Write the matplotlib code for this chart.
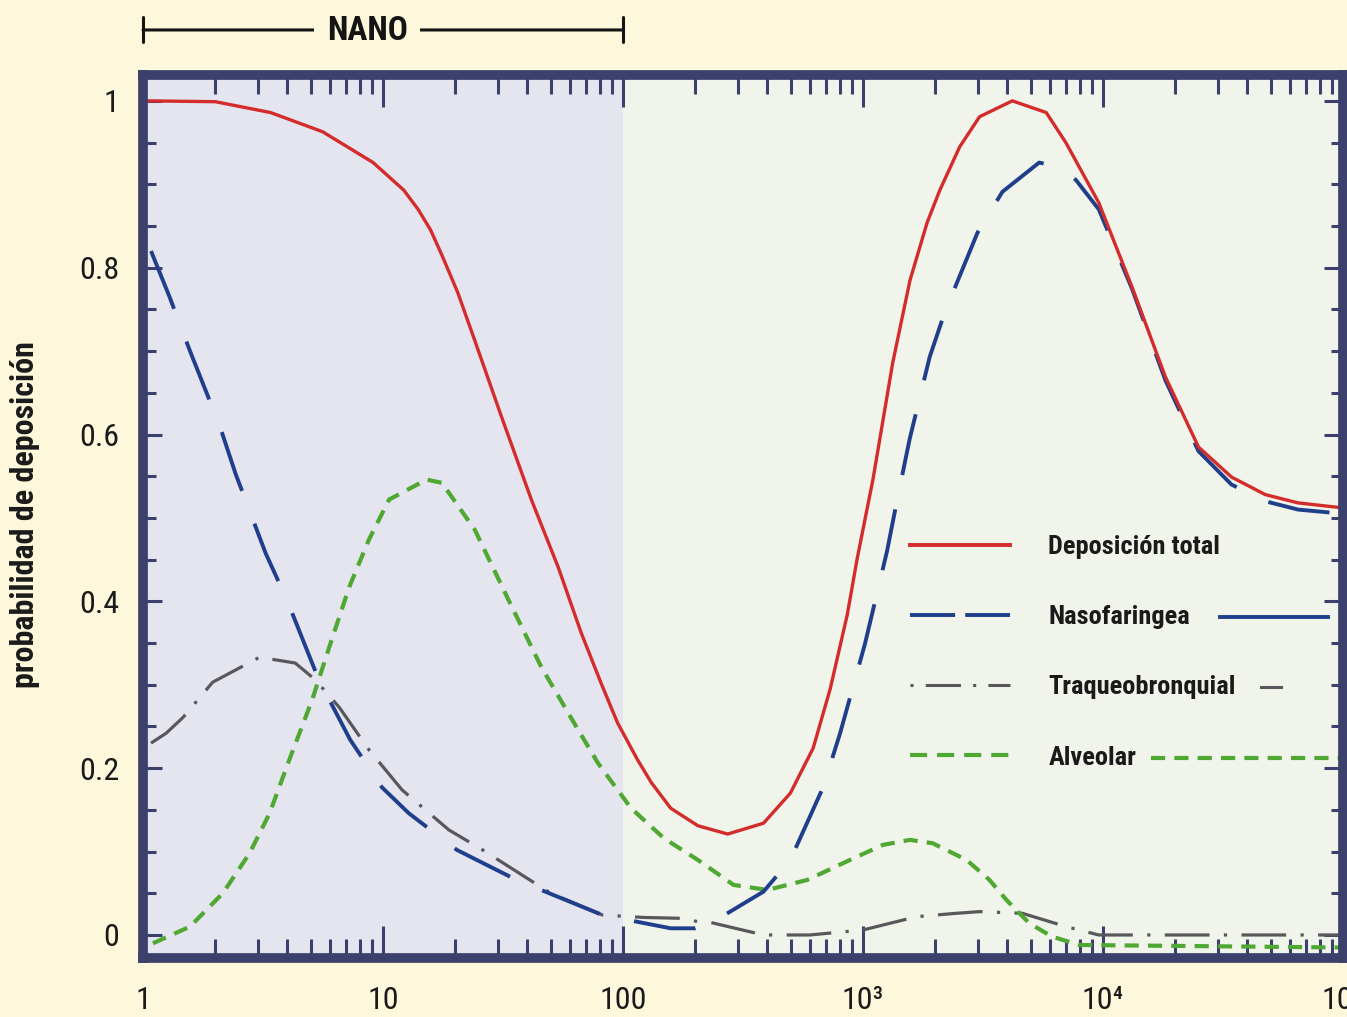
import matplotlib
matplotlib.use("Agg")
import matplotlib.pyplot as plt
from matplotlib import font_manager
from matplotlib.lines import Line2D
from matplotlib.ticker import LogLocator, MultipleLocator, FuncFormatter, NullFormatter
import matplotlib.transforms as mtransforms

# ---------------- data (particle size in nm, deposition probability) ----------------
total_x = [1.05, 2.0, 3.4, 5.6, 9.1, 12.2, 14.0, 15.8, 17.6, 20.5, 24.1, 31.2, 41.5, 53.7,
           67, 81, 95, 115, 131, 158, 205, 273, 385, 498, 620, 730, 860, 944, 1100, 1330,
           1570, 1850, 2090, 2530, 3060, 4190, 5800, 7000, 9600, 13200, 18200, 25000,
           34300, 47400, 65000, 100000]
total_y = [1.0, 0.999, 0.986, 0.963, 0.926, 0.893, 0.87, 0.845, 0.815, 0.77, 0.713, 0.621,
           0.522, 0.441, 0.362, 0.302, 0.254, 0.21, 0.183, 0.152, 0.131, 0.121, 0.134, 0.17,
           0.224, 0.295, 0.384, 0.45, 0.546, 0.686, 0.785, 0.854, 0.893, 0.945, 0.981, 1.0,
           0.986, 0.95, 0.878, 0.777, 0.669, 0.585, 0.549, 0.528, 0.518, 0.512]

naso_x = [1.08, 1.29, 1.57, 2.09, 2.43, 3.24, 4.0, 5.4, 7.3, 9.9, 12.8, 20.3, 36, 82, 158,
          200, 232, 385, 498, 682, 803, 1019, 1259, 1384, 1566, 1896, 2188, 3000, 3810,
          5420, 6560, 7720, 9600, 13200, 18200, 25000, 34300, 47400, 65000, 100000]
naso_y = [0.82, 0.765, 0.70, 0.61, 0.553, 0.458, 0.40, 0.306, 0.234, 0.177, 0.146, 0.102,
          0.066, 0.024, 0.008, 0.008, 0.014, 0.052, 0.09, 0.177, 0.242, 0.349, 0.46, 0.52,
          0.595, 0.693, 0.746, 0.842, 0.891, 0.926, 0.921, 0.905, 0.87, 0.775, 0.665, 0.58,
          0.54, 0.52, 0.51, 0.505]

traq_x = [1.08, 1.25, 1.47, 1.95, 3.06, 4.31, 5.22, 6.57, 8.74, 12, 18.8, 26, 50, 82, 122,
          174, 205, 232, 385, 600, 1000, 1675, 2450, 3060, 4610, 7020, 9600, 100000]
traq_y = [0.23, 0.242, 0.261, 0.303, 0.333, 0.326, 0.306, 0.273, 0.222, 0.174, 0.126, 0.102,
          0.05, 0.024, 0.021, 0.02, 0.016, 0.015, 0.0, 0.0, 0.006, 0.022, 0.026, 0.028,
          0.026, 0.01, 0.0, 0.0]

alv_x = [1.1, 1.57, 2.15, 2.78, 3.37, 4.07, 5.07, 5.97, 7.23, 8.74, 10.6, 15.2, 17.6, 24.1,
         33.3, 45.7, 62.6, 78.7, 108, 148, 205, 289, 400, 586, 883, 1211, 1566, 1950, 2700,
         3365, 3960, 4930, 6140, 7960, 100000]
alv_y = [-0.01, 0.01, 0.05, 0.098, 0.146, 0.21, 0.282, 0.345, 0.417, 0.474, 0.522, 0.546,
         0.542, 0.486, 0.402, 0.321, 0.254, 0.206, 0.152, 0.116, 0.09, 0.06, 0.054, 0.066,
         0.09, 0.108, 0.114, 0.11, 0.09, 0.066, 0.042, 0.014, -0.002, -0.012, -0.015]

series_labels = ["Deposición total", "Nasofaringea", "Traqueobronquial", "Alveolar"]
nano_range = [1, 100]
nano_label = "NANO"
y_label = "probabilidad de deposición"
x_tick_values = [1, 10, 100, 1000, 10000, 100000]
x_tick_labels = ["1", "10", "100", "10³", "10⁴", "10⁵"]
y_tick_values = [0, 0.2, 0.4, 0.6, 0.8, 1.0]
y_tick_labels = ["0", "0.2", "0.4", "0.6", "0.8", "1"]

# ---------------- style ----------------
available = {f.name for f in font_manager.fontManager.ttflist}
narrow = None
for cand in ["Liberation Sans Narrow", "Roboto Condensed", "Open Sans Condensed",
             "Liberation Sans", "Roboto"]:
    if cand in available:
        narrow = cand
        break
FAM = [narrow, "DejaVu Sans"] if narrow else ["DejaVu Sans"]
plt.rcParams["font.family"] = FAM

BG = "#fdf8dc"
NANO_BG = "#e5e5f0"
MICRO_BG = "#f0f4ea"
FRAME = "#3c406c"
RED = "#d42b2b"
BLUE = "#1f3f8c"
GRAY = "#58585c"
GREEN = "#4ea832"
TXT = "#1a1a1a"

fig = plt.figure(figsize=(13.47, 10.17), dpi=100, facecolor=BG)
ax = fig.add_axes([143 / 1347, 1 - 958 / 1017, 1200 / 1347, (958 - 75) / 1017])
ax.set_xscale("log")
ax.set_xlim(1, 1e5)
ax.set_ylim(-0.0276, 1.031)
ax.set_facecolor(MICRO_BG)
ax.axvspan(nano_range[0], nano_range[1], color=NANO_BG, lw=0, zorder=0)

ax.plot(total_x, total_y, color=RED, lw=2.4, zorder=5, solid_joinstyle="round")
ax.plot(naso_x, naso_y, color=BLUE, lw=2.8, dashes=(16, 9), zorder=4)
ax.plot(traq_x, traq_y, color=GRAY, lw=2.3, dashes=(14, 4.5, 1, 4.5), zorder=3)
ax.plot(alv_x, alv_y, color=GREEN, lw=3.0, dashes=(3.4, 2.2), zorder=3)

# ticks
ax.xaxis.set_major_locator(LogLocator(base=10, numticks=10))
ax.xaxis.set_minor_locator(LogLocator(base=10, subs=range(2, 10), numticks=20))
xl = dict(zip(x_tick_values, x_tick_labels))
ax.xaxis.set_major_formatter(FuncFormatter(
    lambda v, p: next((l for t, l in xl.items() if abs(v - t) / t < 1e-6), "")))
ax.xaxis.set_minor_formatter(NullFormatter())
ax.set_yticks(y_tick_values)
ax.set_yticklabels(y_tick_labels)
ax.yaxis.set_minor_locator(MultipleLocator(0.05))

ax.tick_params(axis="both", which="both", direction="in", top=True, right=True,
               color=FRAME, width=2.2, labelcolor=TXT, labelsize=23)
ax.tick_params(axis="x", which="major", length=23, pad=20)
ax.tick_params(axis="x", which="minor", length=14)
ax.tick_params(axis="y", which="major", length=14, pad=17)
ax.tick_params(axis="y", which="minor", length=9)
ax.set_axisbelow(False)

for s in ax.spines.values():
    s.set_linewidth(7)
    s.set_color(FRAME)
    s.set_capstyle("projecting")
    s.set_zorder(10)

ax.set_ylabel(y_label, fontsize=23, fontweight="bold", color=TXT)
ax.yaxis.set_label_coords(-(143 - 40) / 1200, 0.502)

# NANO bracket
trans = mtransforms.blended_transform_factory(ax.transData, ax.transAxes)
ax.annotate("", xy=(nano_range[0], 1.051), xytext=(nano_range[1], 1.051),
            xycoords=trans, textcoords=trans, annotation_clip=False,
            arrowprops=dict(arrowstyle="|-|,widthA=0.45,widthB=0.45", color="#141414",
                            lw=2.2, shrinkA=0, shrinkB=0, mutation_scale=20))
ax.text(8.6, 1.050, nano_label, transform=trans, ha="center", va="center",
        fontsize=24, fontweight="bold", color="#141414", clip_on=False,
        bbox=dict(facecolor=BG, edgecolor="none", pad=9))

# legend
handles = [
    Line2D([], [], color=RED, lw=2.8),
    Line2D([], [], color=BLUE, lw=2.8, dashes=(11.6, 2.6)),
    Line2D([], [], color=GRAY, lw=2.2, dashes=(1, 4, 11.5, 4)),
    Line2D([], [], color=GREEN, lw=3.0, dashes=(4.1, 2.4)),
]
leg = ax.legend(handles, series_labels, loc="upper left",
                bbox_to_anchor=((910 - 143) / 1200, 0.479), frameon=False,
                borderpad=0, borderaxespad=0, handlelength=3.8, handletextpad=1.44,
                labelspacing=1.75, prop=dict(family=FAM, size=19, weight="bold"))
for t in leg.get_texts():
    t.set_color(TXT)

# continuation strokes to the right of labels (as in the original legend)
fig.canvas.draw()
inv = ax.transAxes.inverted()
texts = leg.get_texts()
px = 1.0 / 1200
for t, h, gap, end in [(texts[1], handles[1], 30, 1 - 15 * px),
                       (texts[2], handles[2], 25, None),
                       (texts[3], handles[3], 15, 1.0)]:
    bb = t.get_window_extent()
    yc = inv.transform((0, (bb.y0 + bb.y1) / 2))[1]
    xr = inv.transform((bb.x1, 0))[0]
    start = xr + gap * px
    stop = end if end is not None else start + 20 * px
    ln = Line2D([start, stop], [yc, yc], transform=ax.transAxes, color=h.get_color(),
                lw=h.get_linewidth(), zorder=6, clip_on=False)
    if t is texts[3]:
        ln.set_dashes((3.4, 2.2))
    ax.add_line(ln)

fig.savefig("out.png", dpi=100, facecolor=BG)
